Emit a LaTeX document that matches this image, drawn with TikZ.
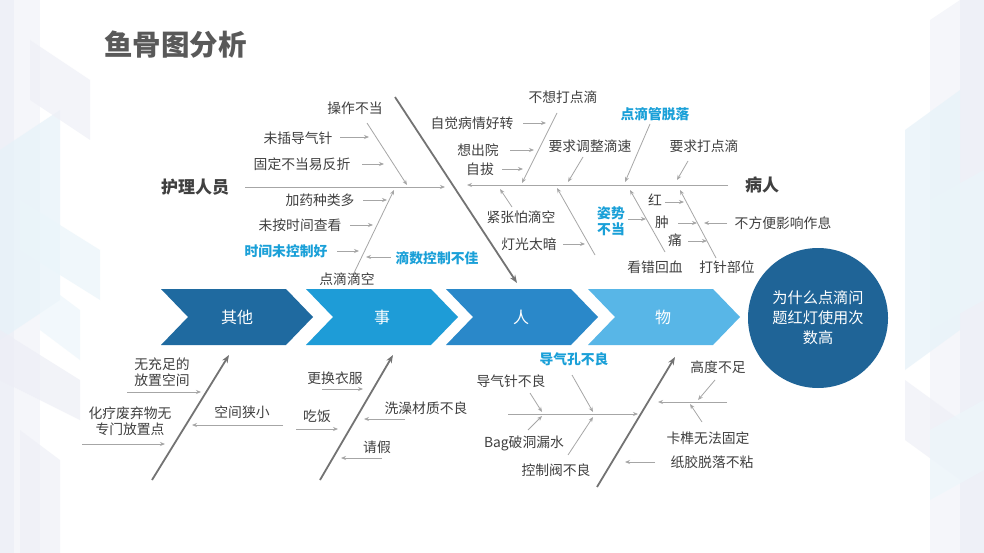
\documentclass[tikz,border=0pt]{standalone}
\usepackage{fontspec}
\setmainfont{Noto Sans CJK SC}
\usetikzlibrary{arrows.meta}
\definecolor{txt}{HTML}{404040}
\definecolor{ttl}{HTML}{595959}
\definecolor{bl}{HTML}{1AA0D8}
\definecolor{ln}{HTML}{A6A6A6}
\definecolor{dk}{HTML}{737373}
\definecolor{cA}{HTML}{1F6AA0}
\definecolor{cB}{HTML}{1E9CD7}
\definecolor{cC}{HTML}{2A88C9}
\definecolor{cD}{HTML}{58B6E7}
\definecolor{circ}{HTML}{1F6497}
\definecolor{bgL}{HTML}{E8EAF4}
\definecolor{bgC}{HTML}{E6F2F9}
\tikzset{
  lbl/.style={font=\fontsize{13.8}{16.5}\selectfont, text=txt, inner sep=0pt, align=center},
  blbl/.style={font=\fontsize{13.8}{16.5}\selectfont\bfseries, text=bl, inner sep=0pt, align=center},
  head/.style={font=\fontsize{17}{20}\selectfont\bfseries, text=txt, inner sep=0pt},
  arr/.style={draw=ln, line width=0.8pt, -{Stealth[length=5pt,width=4pt]}},
  bone/.style={draw=dk, line width=1.8pt, -{Stealth[length=8pt,width=6pt]}},
  chev/.style={inner sep=0pt, font=\fontsize{16}{19}\selectfont, text=white},
  bgpoly/.style={fill opacity=0.7, draw=none}
}
\begin{document}
\begin{tikzpicture}[x=1pt,y=-1pt]
\useasboundingbox (0,0) rectangle (984,553);
\fill[white] (0,0) rectangle (984,553);
% background decorations left
\fill[bgL,bgpoly] (0,0) rectangle (14,553);
\fill[bgL!60,bgpoly] (14,0) -- (40,0) -- (40,553) -- (14,553) -- cycle;
\fill[bgC,bgpoly] (0,150) -- (60,110) -- (60,300) -- (0,340) -- cycle;
\fill[bgL!70,bgpoly] (30,40) -- (90,80) -- (90,140) -- (30,100) -- cycle;
\fill[bgC!80,bgpoly] (20,200) -- (100,250) -- (100,300) -- (20,250) -- cycle;
\fill[bgL!80,bgpoly] (0,330) -- (80,380) -- (80,420) -- (0,380) -- cycle;
\fill[bgC!70,bgpoly] (40,280) -- (80,310) -- (80,360) -- (40,330) -- cycle;
\fill[bgL!70,bgpoly] (20,430) -- (60,460) -- (60,553) -- (20,553) -- cycle;
% background decorations right
\fill[bgL,bgpoly] (960,0) rectangle (984,553);
\fill[bgL!60,bgpoly] (930,20) -- (960,0) -- (960,553) -- (930,553) -- cycle;
\fill[bgC,bgpoly] (905,130) -- (960,90) -- (960,330) -- (905,370) -- cycle;
\fill[bgC!80,bgpoly] (930,200) -- (984,170) -- (984,300) -- (930,330) -- cycle;
\fill[bgL!70,bgpoly] (905,380) -- (960,420) -- (960,480) -- (905,440) -- cycle;
\fill[bgC!70,bgpoly] (930,430) -- (984,400) -- (984,470) -- (930,500) -- cycle;
% title
\node[font=\fontsize{28.5}{31}\selectfont\bfseries, text=ttl, inner sep=0pt, anchor=west] (title) at (104,45) {鱼骨图分析};
% chevrons
\fill[cA] (161,289) -- (286,289) -- (313,317) -- (286,345) -- (161,345) -- (188,317) -- cycle;
\fill[cB] (306,289) -- (431,289) -- (458,317) -- (431,345) -- (306,345) -- (333,317) -- cycle;
\fill[cC] (446,289) -- (571,289) -- (598,317) -- (571,345) -- (446,345) -- (473,317) -- cycle;
\fill[cD] (588,289) -- (713,289) -- (740,317) -- (713,345) -- (588,345) -- (615,317) -- cycle;
\node[chev] (k1) at (237,317) {其他};
\node[chev] (k2) at (382,317) {事};
\node[chev] (k3) at (521,317) {人};
\node[chev] (k4) at (663,317) {物};
% circle
\node[circle, fill=circ, minimum size=140pt, inner sep=0pt, text=white, align=center,
      font=\fontsize{15.2}{20}\selectfont] (q) at (818,318) {为什么点滴问\\题红灯使用次\\数高};

% ===== upper left: 护理人员 =====
\node[head] (hl) at (195,187) {护理人员};
\coordinate (hA) at (245,187); \coordinate (hB) at (445,187);
\draw[arr] (hA) -- (hB);
\coordinate (bigT) at (395,97); \coordinate (bigB) at (517,283);
\draw[bone] (bigT) -- (bigB);
\node[lbl] (u1) at (355,108) {操作不当};
\coordinate (d1a) at (367,123); \coordinate (d1b) at (407,185);
\draw[arr] (d1a) -- (d1b);
\node[lbl] (u2) at (298,138) {未插导气针};
\coordinate (u2a) at (340,137); \coordinate (u2b) at (369,137);
\draw[arr] (u2a) -- (u2b);
\node[lbl] (u3) at (302,164) {固定不当易反折};
\coordinate (u3a) at (362,164); \coordinate (u3b) at (384,164);
\draw[arr] (u3a) -- (u3b);
\coordinate (d2a) at (353,275); \coordinate (d2b) at (394,190);
\draw[arr] (d2a) -- (d2b);
\node[lbl] (u4) at (320,200) {加药种类多};
\coordinate (u4a) at (363,200); \coordinate (u4b) at (387,200);
\draw[arr] (u4a) -- (u4b);
\node[lbl] (u5) at (300,225) {未按时间查看};
\coordinate (u5a) at (350,225); \coordinate (u5b) at (373,225);
\draw[arr] (u5a) -- (u5b);
\node[blbl] (u6) at (286,251) {时间未控制好};
\coordinate (u6a) at (337,251); \coordinate (u6b) at (359,251);
\draw[arr] (u6a) -- (u6b);
\node[lbl] (u7) at (347,279) {点滴滴空};
\node[blbl] (u8) at (437,258) {滴数控制不佳};
\coordinate (u8a) at (391,257); \coordinate (u8b) at (366,257);
\draw[arr] (u8a) -- (u8b);

% ===== upper right: 病人 =====
\node[head] (hr) at (762,185) {病人};
\coordinate (pA) at (728,185); \coordinate (pB) at (467,185);
\draw[arr] (pA) -- (pB);
\node[lbl] (r1) at (563,97) {不想打点滴};
\coordinate (r1a) at (557,113); \coordinate (r1b) at (522,183);
\draw[arr] (r1a) -- (r1b);
\node[lbl] (r2) at (472,123) {自觉病情好转};
\coordinate (r2a) at (523,123); \coordinate (r2b) at (546,123);
\draw[arr] (r2a) -- (r2b);
\node[lbl] (r3) at (478,150) {想出院};
\coordinate (r3a) at (510,150); \coordinate (r3b) at (534,150);
\draw[arr] (r3a) -- (r3b);
\node[lbl] (r4) at (480,169) {自拔};
\coordinate (r4a) at (502,169); \coordinate (r4b) at (523,169);
\draw[arr] (r4a) -- (r4b);
\node[lbl] (r5) at (590,146) {要求调整滴速};
\coordinate (r5a) at (583,157); \coordinate (r5b) at (568,182);
\draw[arr] (r5a) -- (r5b);
\node[blbl] (r6) at (655,114) {点滴管脱落};
\coordinate (r6a) at (650,124); \coordinate (r6b) at (625,182);
\draw[arr] (r6a) -- (r6b);
\node[lbl] (r7) at (704,146) {要求打点滴};
\coordinate (r7a) at (688,161); \coordinate (r7b) at (677,180);
\draw[arr] (r7a) -- (r7b);
\node[lbl] (r8) at (521,217) {紧张怕滴空};
\coordinate (r8a) at (512,207); \coordinate (r8b) at (500,189);
\draw[arr] (r8a) -- (r8b);
\node[lbl] (r9) at (529,244) {灯光太暗};
\coordinate (r9a) at (563,244); \coordinate (r9b) at (585,244);
\draw[arr] (r9a) -- (r9b);
\coordinate (d3a) at (595,255); \coordinate (d3b) at (557,188);
\draw[arr] (d3a) -- (d3b);
\node[blbl] (r10) at (611,221) {姿势\\不当};
\coordinate (r10a) at (628,219); \coordinate (r10b) at (646,219);
\draw[arr] (r10a) -- (r10b);
\coordinate (d4a) at (665,252); \coordinate (d4b) at (630,190);
\draw[arr] (d4a) -- (d4b);
\node[lbl] (r11) at (655,267) {看错回血};
\node[lbl] (r12) at (655,200) {红};
\coordinate (r12a) at (665,202); \coordinate (r12b) at (684,202);
\draw[arr] (r12a) -- (r12b);
\node[lbl] (r13) at (662,222) {肿};
\coordinate (r13a) at (678,223); \coordinate (r13b) at (697,223);
\draw[arr] (r13a) -- (r13b);
\node[lbl] (r14) at (675,240) {痛};
\coordinate (r14a) at (688,241); \coordinate (r14b) at (707,241);
\draw[arr] (r14a) -- (r14b);
\coordinate (d5a) at (716,258); \coordinate (d5b) at (680,190);
\draw[arr] (d5a) -- (d5b);
\node[lbl] (r15) at (727,267) {打针部位};
\node[lbl] (r16) at (783,223) {不方便影响作息};
\coordinate (r16a) at (727,223); \coordinate (r16b) at (704,223);
\draw[arr] (r16a) -- (r16b);

% ===== bottom left: 其他 =====
\coordinate (bAa) at (152,480); \coordinate (bAb) at (229,355);
\draw[bone] (bAa) -- (bAb);
\node[lbl] (o1) at (162,372) {无充足的\\放置空间};
\coordinate (o1a) at (127,392); \coordinate (o1b) at (201,392);
\draw[arr] (o1a) -- (o1b);
\node[lbl] (o2) at (130,421) {化疗废弃物无\\专门放置点};
\coordinate (o2a) at (82,444); \coordinate (o2b) at (165,444);
\draw[arr] (o2a) -- (o2b);
\node[lbl] (o3) at (242,412) {空间狭小};
\coordinate (o3a) at (283,425); \coordinate (o3b) at (192,425);
\draw[arr] (o3a) -- (o3b);

% ===== bottom middle: 事 =====
\coordinate (bBa) at (320,480); \coordinate (bBb) at (393,355);
\draw[bone] (bBa) -- (bBb);
\node[lbl] (s1) at (335,378) {更换衣服};
\coordinate (s1a) at (322,389); \coordinate (s1b) at (363,389);
\draw[arr] (s1a) -- (s1b);
\node[lbl] (s2) at (317,416) {吃饭};
\coordinate (s2a) at (296,429); \coordinate (s2b) at (338,429);
\draw[arr] (s2a) -- (s2b);
\node[lbl] (s3) at (426,408) {洗澡材质不良};
\coordinate (s3a) at (405,419); \coordinate (s3b) at (364,419);
\draw[arr] (s3a) -- (s3b);
\node[lbl] (s4) at (377,447) {请假};
\coordinate (s4a) at (382,458); \coordinate (s4b) at (341,458);
\draw[arr] (s4a) -- (s4b);

% ===== bottom right: 物 =====
\coordinate (bCa) at (597,487); \coordinate (bCb) at (675,357);
\draw[bone] (bCa) -- (bCb);
\node[blbl] (w1) at (574,359) {导气孔不良};
\node[lbl] (w2) at (511,381) {导气针不良};
\coordinate (wHa) at (508,414); \coordinate (wHb) at (638,414);
\draw[arr] (wHa) -- (wHb);
\coordinate (w2a) at (530,393); \coordinate (w2b) at (542,412);
\draw[arr] (w2a) -- (w2b);
\coordinate (w1a) at (572,375); \coordinate (w1b) at (593,412);
\draw[arr] (w1a) -- (w1b);
\node[lbl] (w3) at (524,443) {Bag破洞漏水};
\coordinate (w3a) at (528,430); \coordinate (w3b) at (542,416);
\draw[arr] (w3a) -- (w3b);
\coordinate (w4a) at (568,455); \coordinate (w4b) at (593,417);
\draw[arr] (w4a) -- (w4b);
\node[lbl] (w4) at (556,470) {控制阀不良};
\node[lbl] (w5) at (718,367) {高度不足};
\coordinate (wKa) at (727,402); \coordinate (wKb) at (658,402);
\draw[arr] (wKa) -- (wKb);
\coordinate (w5a) at (715,380); \coordinate (w5b) at (698,400);
\draw[arr] (w5a) -- (w5b);
\coordinate (w6a) at (702,422); \coordinate (w6b) at (690,404);
\draw[arr] (w6a) -- (w6b);
\node[lbl] (w6) at (708,438) {卡榫无法固定};
\node[lbl] (w7) at (712,462) {纸胶脱落不粘};
\coordinate (w7a) at (655,462); \coordinate (w7b) at (625,462);
\draw[arr] (w7a) -- (w7b);
\end{tikzpicture}
\end{document}
